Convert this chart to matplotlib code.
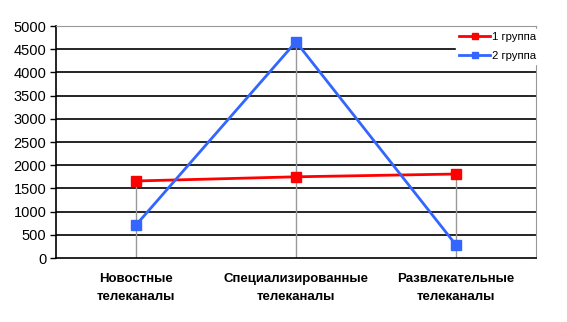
import matplotlib
matplotlib.use("Agg")
import matplotlib.pyplot as plt
import numpy as np

categories = ["Новостные\nтелеканалы", "Специализированные\nтелеканалы", "Развлекательные\nтелеканалы"]
group1 = [1660, 1750, 1810]
group2 = [710, 4660, 280]
series_names = ["1 группа", "2 группа"]
yticks = [0, 500, 1000, 1500, 2000, 2500, 3000, 3500, 4000, 4500, 5000]

plt.rcParams['font.family'] = ['Liberation Sans', 'DejaVu Sans']

fig = plt.figure(figsize=(5.67, 3.22), dpi=100)
W, H = 567, 322
ax = fig.add_axes([56 / W, (H - 258) / H, 480 / W, 232 / H])

x = np.arange(len(categories)) + 0.5
ax.set_xlim(0, len(categories))
ax.set_ylim(0, 5000)

for v in yticks[1:-1]:
    ax.axhline(v, color="black", lw=1.2, zorder=1)

# drop lines
for xi, a, b in zip(x, group1, group2):
    ax.vlines(xi, 0, max(a, b), color="#999999", lw=1, zorder=2)

ax.plot(x, group1, color="#ff0000", lw=2, marker="s", ms=6.5, label=series_names[0], zorder=3)
ax.plot(x, group2, color="#3366ff", lw=2, marker="s", ms=6.5, label=series_names[1], zorder=3)

ax.set_yticks(yticks)
ax.set_yticklabels([str(t) for t in yticks], fontsize=10.5)
ax.tick_params(axis="y", direction="out", length=4, width=1, color="black", pad=3)
ax.set_xticks(x)
ax.set_xticklabels(categories, fontsize=9.5, fontweight="bold", linespacing=1.6)
ax.tick_params(axis="x", length=0, pad=11)

ax.spines["left"].set_color("black")
ax.spines["left"].set_linewidth(1.2)
ax.spines["bottom"].set_color("black")
ax.spines["bottom"].set_linewidth(1.2)
ax.spines["right"].set_color("#999999")
ax.spines["top"].set_color("#999999")
ax.spines["top"].set_linestyle((0, (1, 1)))

leg = ax.legend(loc="upper left", bbox_to_anchor=(456 / W, (H - 29) / H), bbox_transform=fig.transFigure,
                frameon=True, fontsize=8.2, handlelength=2.7, handletextpad=0.15, labelspacing=0.75,
                borderpad=0.3, borderaxespad=0, markerscale=0.6)
leg.get_frame().set_edgecolor("white")
leg.get_frame().set_facecolor("white")
leg.get_frame().set_alpha(1)
leg.set_zorder(5)

fig.savefig("out.png", dpi=100)
